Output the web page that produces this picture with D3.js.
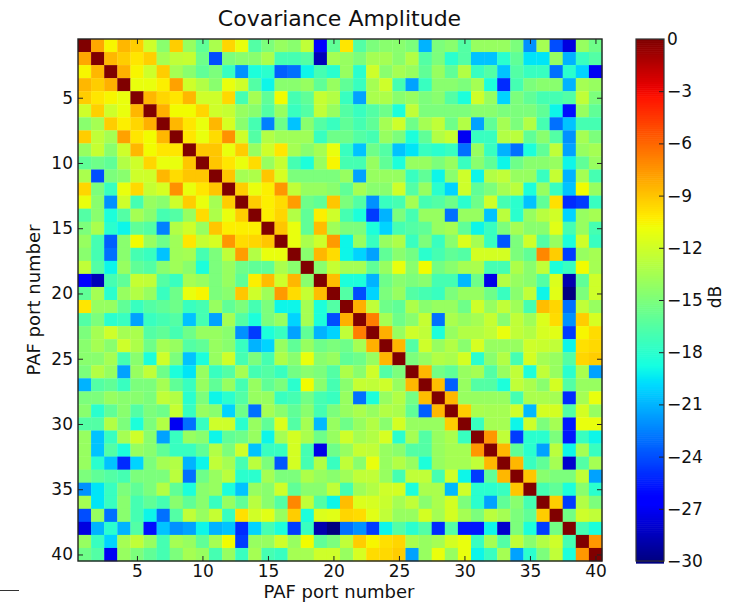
<!DOCTYPE html>
<html><head><meta charset="utf-8">
<script src="https://cdn.jsdelivr.net/npm/d3@7/dist/d3.min.js"></script>
<style>html,body{margin:0;padding:0;background:#fff}svg{display:block}text{font-family:"DejaVu Sans",sans-serif;fill:#111}</style>
</head><body><svg id="c" width="743" height="605"></svg>
<script>
const title = "Covariance Amplitude";
const xLabel = "PAF port number";
const yLabel = "PAF port number";
const barLabel = "dB";
const portTicks = [5,10,15,20,25,30,35,40];
const dbTicks = [0,-3,-6,-9,-12,-15,-18,-21,-24,-27,-30];
// Upper triangle of the symmetric covariance matrix (dB); each row starts on the diagonal.
const upper = [
[0,-8,-10.5,-8.5,-9.2,-12,-14.5,-9.2,-14,-16,-13.3,-9.5,-11,-16.5,-15,-14,-14.5,-12.5,-26.5,-16,-10,-16.5,-15,-14.5,-14.5,-15,-21,-15,-14.5,-16.5,-14,-14,-14,-15,-22,-13.5,-24,-27.5,-14,-15.5],
[0,-8.5,-9.2,-10,-9.3,-13.5,-12.5,-12.3,-15.5,-24,-15,-14.5,-14.5,-13.3,-17,-17,-16.5,-28.5,-13.5,-14,-15,-13.5,-13.5,-14.5,-13,-16.5,-15,-18,-16.5,-20.5,-20.5,-18,-16,-19.5,-19.5,-14,-21,-17.5,-16.5],
[0,-8.3,-10.5,-12,-9.2,-13.5,-14.5,-16,-15,-17.5,-22,-18.5,-18,-23.5,-23,-19,-17,-18,-14,-18,-12,-14.5,-13.5,-14,-16,-14,-16,-13,-17.5,-16.5,-20.5,-16.5,-17.5,-17.5,-23,-18,-20,-27],
[0,-11,-11,-10.3,-7.8,-12,-13,-14.5,-11,-12,-16.5,-19,-14.5,-14.5,-14,-16,-14,-16,-17.5,-13.5,-12,-17,-21.5,-17.5,-14.5,-14.5,-15,-13.5,-18.5,-25,-17,-15,-14.5,-14.5,-21,-13.5,-14],
[0,-8.5,-9.5,-10,-8.5,-12,-12,-9.6,-17,-13.5,-16,-10.7,-17,-16,-12.3,-13,-17.5,-21.5,-13.3,-13.2,-14.5,-14,-15,-14.5,-16.5,-18.5,-12,-14,-20,-15,-16,-17,-17,-16.5,-12.5,-15],
[0,-8.3,-10.7,-10.7,-9.5,-12,-12.3,-14,-14.5,-16.5,-14,-17.5,-16.5,-12.5,-14,-16.5,-17.5,-16.5,-15.5,-18.5,-12.5,-15,-15,-15,-15,-14.5,-14.5,-15,-15,-15,-16,-19,-26,-14,-16],
[0,-8.5,-10,-11,-8.5,-11.7,-14.5,-17,-22.5,-15.5,-20.5,-14.5,-16.5,-17.5,-16,-17,-16,-13.5,-12,-15.5,-13.5,-12.5,-15.5,-13,-21.5,-16,-13.5,-15,-13,-17,-23,-20.5,-17,-17],
[0,-10,-11,-9.7,-7.3,-12,-16.5,-13,-13.7,-13.7,-13.7,-17.5,-15.5,-15.5,-16.5,-17,-14,-15,-18.5,-16,-13,-12.3,-27,-17.5,-17.5,-13,-12.7,-16,-14.5,-16.5,-22,-13.5,-15],
[0,-9,-9,-11,-9.2,-14,-12,-10,-13.5,-14.5,-13.5,-11,-17.5,-20.5,-15.5,-16.5,-20.5,-19.5,-17.5,-18,-17.5,-23,-14,-17.5,-21,-23,-18.5,-16,-12.5,-21.5,-14,-13.5],
[0,-9,-10,-11,-9.7,-14,-12.3,-17,-18.5,-14,-10.5,-17,-17,-14,-16,-18.5,-14,-14,-15,-14,-17.5,-14.5,-16,-19,-15.5,-14.5,-14.5,-14,-19,-16,-14],
[0,-9,-13.5,-13.2,-9,-11.7,-15,-15,-15,-15,-14,-21.5,-14,-14,-14,-17.5,-16,-19,-14.5,-12,-19,-13,-12.5,-14,-14,-17.5,-12.3,-21,-13.5,-17],
[0,-9.2,-11,-10.3,-7.5,-12.5,-14,-14,-14.5,-16,-13.5,-14.5,-14.5,-12,-16.5,-14,-18,-20,-12,-16,-15,-13.5,-12.7,-18.5,-14,-17.5,-20.5,-10.7,-14],
[0,-9.2,-10.3,-9.7,-7.7,-15.5,-16,-9,-15,-16.5,-22,-17.5,-17,-13.5,-17,-16.5,-15.5,-18,-15.5,-12,-17,-18,-20.5,-16,-9.8,-25,-24.5,-17.5],
[0,-10.3,-9.5,-13,-16,-10.3,-12,-17,-18.5,-24.5,-21,-15,-17,-14,-14,-23,-14,-14,-20.5,-12.7,-18,-14,-12.8,-11.9,-20,-14,-13.5],
[0,-9,-11,-16,-8.7,-13.7,-15,-15,-18.5,-20,-17,-16.5,-16,-14,-13.5,-16,-19,-17.5,-15,-13.5,-14.5,-14.5,-11.3,-17,-14,-17],
[0,-11,-13.3,-12,-7.6,-19,-14,-17.5,-14,-13.2,-17.5,-15,-17.5,-14.5,-11.5,-13.5,-17.5,-23.7,-15,-12,-16.5,-14,-18.5,-12,-17.5],
[0,-14.5,-8.5,-9.7,-19,-20,-21.5,-16,-14.5,-15.3,-18,-17,-16,-16.5,-11.8,-11.8,-11.8,-15,-16,-7,-9.2,-24.5,-14,-13.5],
[0,-14.5,-12.3,-13.5,-13.5,-16,-14,-11,-14.5,-10.7,-15.3,-14.5,-13.5,-13.3,-17,-17,-13.2,-14.5,-12.5,-18.5,-17.5,-10.7,-13.5],
[0,-8.7,-18.5,-18.5,-21,-15.5,-14.5,-15,-14.5,-17,-17,-20.8,-15.5,-27.3,-13,-14,-14.5,-16.5,-11.5,-28.8,-16,-12],
[0,-16.5,-24,-20,-15,-14,-16.5,-17,-17.5,-15,-14,-14,-15.5,-17.5,-14.5,-12.5,-19,-11.3,-30,-15,-12],
[0,-8.3,-12.5,-15.5,-16,-13.2,-14.5,-14,-14,-15.5,-12,-14,-12.5,-13.7,-17,-8.7,-9.5,-23,-12.5,-14],
[0,-6.7,-13.5,-15.5,-14.5,-12.3,-23,-13.3,-14,-13.5,-12.3,-14.5,-12.5,-13.7,-11.5,-9.7,-22,-9.2,-11.7],
[0,-8.3,-14,-12,-12.5,-18.5,-14,-13,-13,-12.5,-11,-12.5,-13,-11.7,-11.3,-24.5,-10.5,-9.7],
[0,-8.5,-16.5,-12,-14,-13,-14.5,-11.7,-14,-14,-14,-12,-12.2,-12.5,-19,-9.8,-9.6],
[0,-15,-14,-13,-13.3,-11.8,-18,-14.5,-13,-17,-11.8,-13.5,-14,-16.5,-9.5,-9.2],
[0,-8.5,-15.3,-16,-14,-13.5,-16.5,-14,-12.5,-18.5,-12.5,-14,-18,-13.3,-21.5],
[0,-8.7,-23.5,-14,-16.5,-16.5,-18.5,-12.5,-13.3,-14.5,-11.8,-16.5,-14,-14],
[0,-8.5,-14,-14,-14,-14,-17,-13.3,-13.3,-13.5,-25,-13.5,-11],
[0,-9.2,-13.3,-13.5,-13.5,-12,-20.8,-11.8,-11.8,-16.5,-11.8,-14],
[0,-17.5,-13.5,-13.5,-19,-12,-15,-13.5,-25.5,-11,-11],
[0,-7.5,-12.5,-24.5,-18,-18,-15,-25.5,-17.5,-19],
[0,-8.5,-16,-18,-21.5,-12.7,-19,-13.5,-17.5],
[0,-8.5,-17.5,-16,-13.5,-28,-16.5,-13.5],
[0,-9,-14.5,-15,-15,-12.5,-21.5],
[0,-17,-16,-18.5,-14.5,-18],
[0,-9.2,-24.5,-13,-15],
[0,-15.3,-12,-12.5],
[0,-17,-18.5],
[0,-7.5],
[0]
];

// matplotlib "jet" as piecewise-linear channels over 0..1
const red = d3.scaleLinear().domain([0,.35,.66,.89,1]).range([0,0,1,1,.5]).clamp(true);
const green = d3.scaleLinear().domain([0,.125,.375,.64,.91,1]).range([0,0,1,1,0,0]).clamp(true);
const blue = d3.scaleLinear().domain([0,.11,.34,.65,1]).range([.5,1,1,0,0]).clamp(true);
const toT = d3.scaleLinear().domain([-30,0]).range([0,1]);
const jet = v => { const t = toT(v); return d3.rgb(red(t)*255, green(t)*255, blue(t)*255).formatHex(); };
const fmt = v => String(v).replace("-", "\u2212");

const L=78,R=602,T=39,B=561,CL=636,CR=664;
const svg = d3.select("#c");
svg.append("defs").append("filter").attr("id","soft").attr("x",0).attr("y",0).attr("width",1).attr("height",1)
  .append("feGaussianBlur").attr("stdDeviation",.4);
const x = d3.scaleLinear().domain([.5,upper.length+.5]).range([L,R]);
const y = d3.scaleLinear().domain([.5,upper.length+.5]).range([T,B]);
const cells = upper.flatMap((row,i)=>row.flatMap((v,k)=>{
  const a={r:i+1,c:i+k+1,v}; return k? [a,{r:a.c,c:a.r,v}] : [a];
}));
svg.append("g").attr("filter","url(#soft)").selectAll("rect").data(cells).join("rect")
  .attr("x",d=>x(d.c-.5)).attr("y",d=>y(d.r-.5))
  .attr("width",x(2)-x(1)+.3).attr("height",y(2)-y(1)+.3)
  .attr("fill",d=>jet(d.v));

function styleAxis(g,size){ g.select(".domain").remove();
  g.selectAll("line").attr("stroke","#222").attr("stroke-width",1);
  g.selectAll("text").style("font-size",size+"px").attr("fill","#111");
}
const tick=5;
svg.append("g").attr("transform",`translate(0,${B})`)
  .call(d3.axisBottom(x).tickValues(portTicks).tickSize(-tick).tickPadding(4)).call(styleAxis,17);
svg.append("g").attr("transform",`translate(0,${T})`)
  .call(d3.axisTop(x).tickValues(portTicks).tickSize(-tick).tickFormat("")).call(styleAxis,17);
svg.append("g").attr("transform",`translate(${L},0)`)
  .call(d3.axisLeft(y).tickValues(portTicks).tickSize(-tick).tickPadding(5)).call(styleAxis,17);
svg.append("g").attr("transform",`translate(${R},0)`)
  .call(d3.axisRight(y).tickValues(portTicks).tickSize(-tick).tickFormat("")).call(styleAxis,17);
svg.append("rect").attr("x",L).attr("y",T).attr("width",R-L).attr("height",B-T)
  .attr("fill","none").attr("stroke","#222").attr("stroke-width",1.4);

// colour bar
const cb = d3.scaleLinear().domain([0,-30]).range([T,B]);
const levels = d3.range(0,256).map(i=>-30*i/255);
svg.append("g").selectAll("rect").data(levels).join("rect")
  .attr("x",CL).attr("width",CR-CL).attr("y",d=>cb(d)).attr("height",(B-T)/255+.6).attr("fill",d=>jet(d));
svg.append("g").attr("transform",`translate(${CR},0)`)
  .call(d3.axisRight(cb).tickValues(dbTicks).tickFormat(fmt).tickSize(-tick).tickPadding(3)).call(styleAxis,17);
svg.append("rect").attr("x",CL).attr("y",T).attr("width",CR-CL).attr("height",B-T)
  .attr("fill","none").attr("stroke","#333").attr("stroke-width",1.2);

svg.append("text").attr("x",339.5).attr("y",26).attr("text-anchor","middle").style("font-size","22px").text(title);
svg.append("text").attr("x",339).attr("y",598).attr("text-anchor","middle").style("font-size","18px").text(xLabel);
svg.append("text").attr("transform","translate(40,300) rotate(-90)").attr("text-anchor","middle").style("font-size","18px").text(yLabel);
svg.append("text").attr("transform","translate(721,297) rotate(-90)").attr("text-anchor","middle").style("font-size","17px").text(barLabel);
svg.append("path").attr("d","M0,590.5H19").attr("stroke","#333").attr("fill","none");
</script></body></html>
